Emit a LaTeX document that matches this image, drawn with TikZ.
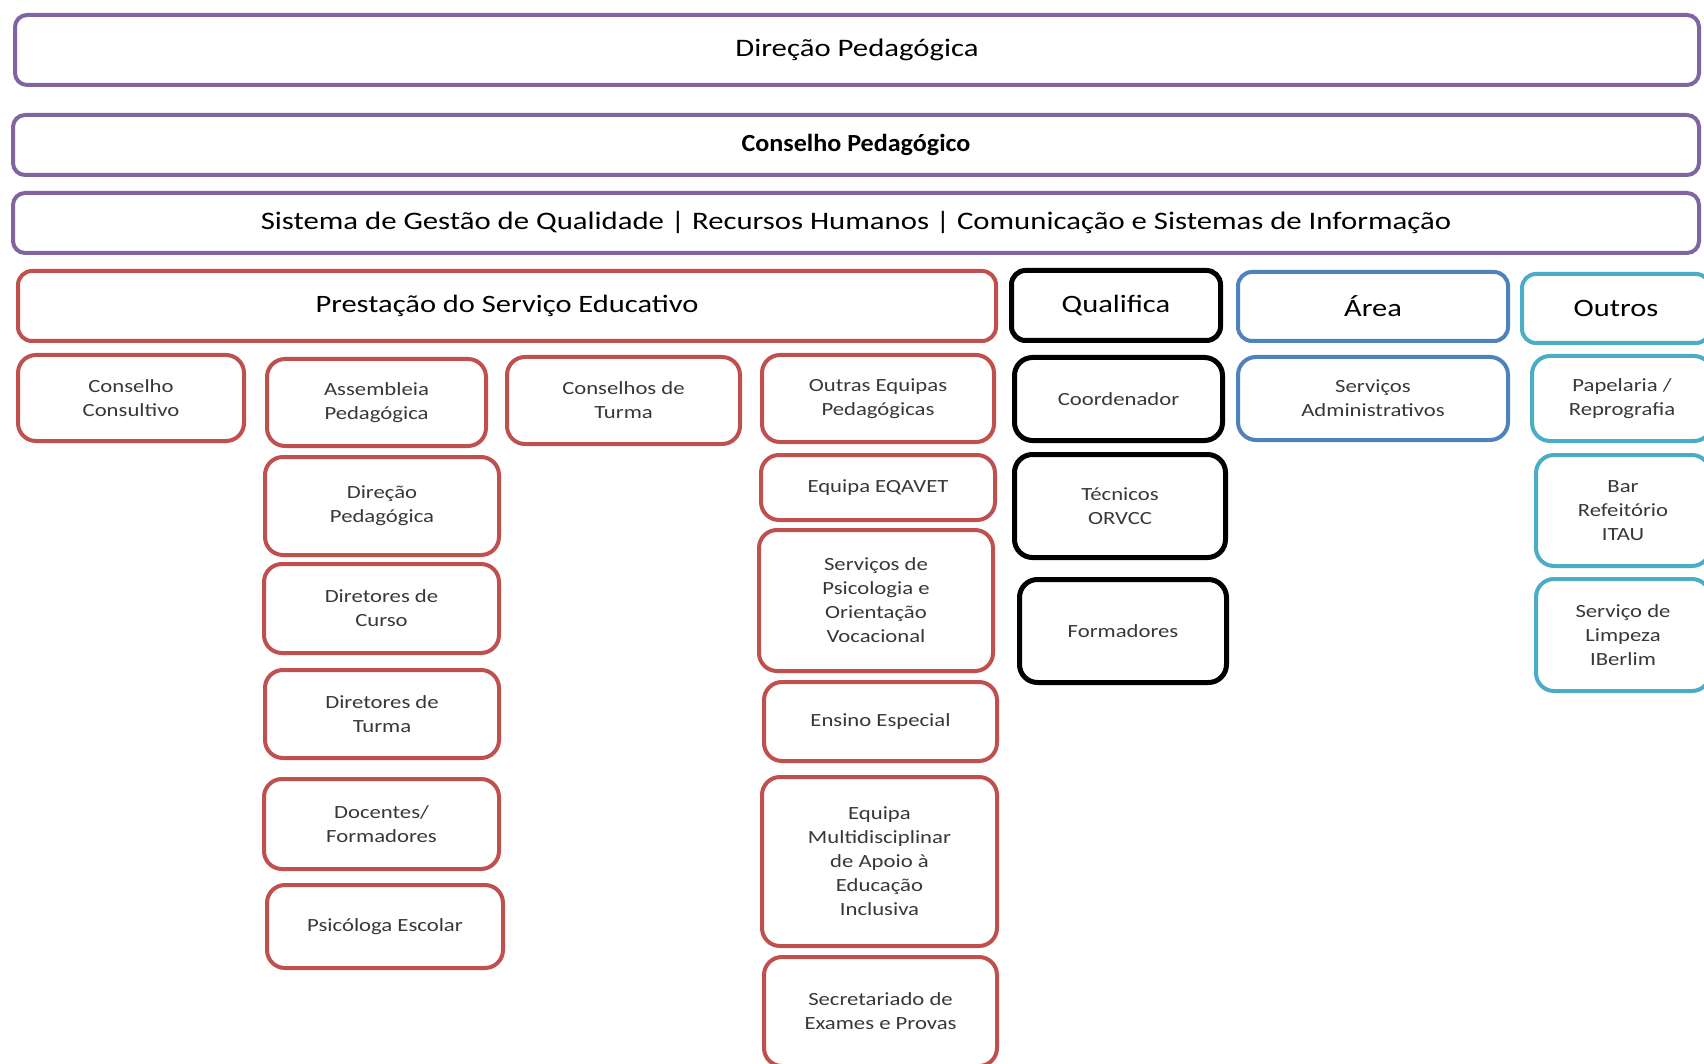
\documentclass[tikz,border=0pt]{standalone}
\usepackage{fontspec}
\setmainfont[FakeStretch=1.22]{Carlito}
\newfontfamily\boldfont[FakeStretch=1.06]{Carlito}
\usepackage{tikz}

\definecolor{purpleline}{HTML}{8064A2}
\definecolor{redline}{HTML}{C0504D}
\definecolor{blueline}{HTML}{4F81BD}
\definecolor{cyanline}{HTML}{4BACC6}
\definecolor{txtgray}{HTML}{383838}

\begin{document}
\begin{tikzpicture}[x=0.5pt,y=-0.5pt,
    wh/.style 2 args={minimum width=#1*0.5pt,minimum height=#2*0.5pt}]
    \tikzstyle{box}=[rectangle,draw,fill=white,align=center,inner sep=0pt,line width=2pt]
    \tikzstyle{topbox}=[box,draw=purpleline,rounded corners=6pt,font=\fontsize{12.6}{15}\selectfont]
    \tikzstyle{headbox}=[box,rounded corners=7pt,font=\fontsize{12.5}{15}\selectfont]
    \tikzstyle{unitbox}=[box,rounded corners=9pt,text=txtgray,font=\fontsize{9.3}{12}\selectfont]
    \tikzstyle{redbox}=[unitbox,draw=redline]
    \tikzstyle{blackbox}=[unitbox,draw=black,line width=2.5pt]
    \tikzstyle{bluebox}=[unitbox,draw=blueline]
    \tikzstyle{cyanbox}=[unitbox,draw=cyanline]

    \useasboundingbox (0,0) rectangle (1704,1064);
    \clip (0,0) rectangle (1704,1064);

    % top levels
    \node[topbox,wh={1684}{70}] (dirtop) at (857,50) {Direção Pedagógica};
    \node[topbox,wh={1686}{60}] (conspd) at (856,145) {\boldfont\bfseries\fontsize{12.3}{15}\selectfont Conselho Pedagógico};
    \node[topbox,wh={1686}{60}] (sgq) at (856,223) {Sistema de Gestão de Qualidade | Recursos Humanos | Comunicação e Sistemas de Informação};

    % column heads
    \node[headbox,draw=redline,wh={978}{70}] (prest) at (507,306) {Prestação do Serviço Educativo};
    \node[headbox,draw=black,line width=2.5pt,wh={209}{70}] (qual) at (1116,305.5) {Qualifica};
    \node[headbox,draw=blueline,wh={270}{69}] (area) at (1373,306.5) {Área};
    \node[headbox,draw=cyanline,wh={188}{69}] (outros) at (1616,308.5) {Outros};

    % educativo
    \node[redbox,wh={226}{86}] (ccons) at (131,398) {Conselho\\Consultivo};
    \node[redbox,wh={219}{87}] (assemb) at (376.5,402.5) {Assembleia\\Pedagógica};
    \node[redbox,wh={233}{87}] (cturma) at (623.5,400.5) {Conselhos de\\Turma};
    \node[redbox,wh={232}{87}] (outras) at (878,398.5) {Outras Equipas\\Pedagógicas};

    \node[redbox,wh={234}{98}] (dirped) at (382,506) {Direção\\Pedagógica};
    \node[redbox,wh={235}{89}] (dircurso) at (381.5,608.5) {Diretores de\\Curso};
    \node[redbox,wh={234}{88}] (dirturma) at (382,714) {Diretores de\\Turma};
    \node[redbox,wh={235}{90}] (docentes) at (381.5,824) {Docentes/\\Formadores};
    \node[redbox,wh={236}{83}] (psico) at (385,926.5) {Psicóloga Escolar};

    \node[redbox,wh={234}{65}] (eqavet) at (878,487.5) {Equipa EQAVET};
    \node[redbox,wh={234}{141}] (spov) at (876,600.5) {Serviços de\\Psicologia e\\Orientação\\Vocacional};
    \node[redbox,wh={233}{79}] (ensino) at (880.5,721.5) {Ensino Especial};
    \node[redbox,wh={235}{169}] (emaei) at (879.5,861.5) {Equipa\\Multidisciplinar\\de Apoio à\\Educação\\Inclusiva};
    \node[redbox,wh={233}{109}] (secret) at (880.5,1011.5) {Secretariado de\\Exames e Provas};

    % qualifica
    \node[blackbox,wh={208}{83}] (coord) at (1118.5,399) {Coordenador};
    \node[blackbox,wh={211}{103}] (tecnicos) at (1120,506) {Técnicos\\ORVCC};
    \node[blackbox,wh={207}{103}] (formad) at (1123,631) {Formadores};

    % area
    \node[bluebox,wh={270}{83}] (servadm) at (1373,398.5) {Serviços\\Administrativos};

    % outros
    \node[cyanbox,wh={180}{85}] (papel) at (1622,398.5) {Papelaria /\\Reprografia};
    \node[cyanbox,wh={174}{111}] (bar) at (1623,510.5) {Bar\\Refeitório\\ITAU};
    \node[cyanbox,wh={174}{112}] (limpeza) at (1623,635) {Serviço de\\Limpeza\\IBerlim};
\end{tikzpicture}
\end{document}
